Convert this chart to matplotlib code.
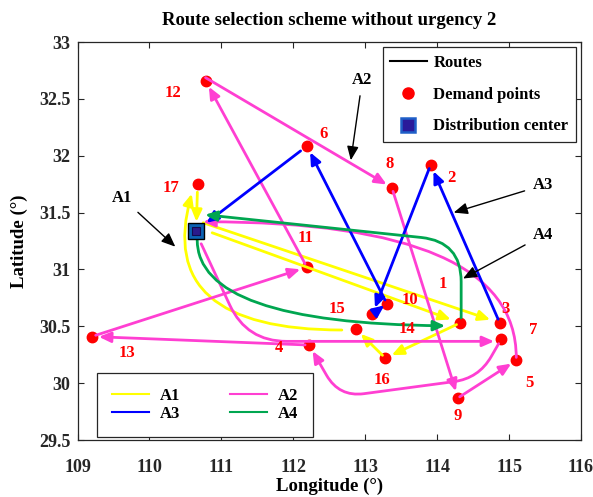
import matplotlib
matplotlib.use("Agg")
import matplotlib.pyplot as plt
from matplotlib.patches import FancyArrowPatch
from matplotlib.lines import Line2D
from matplotlib.ticker import FormatStrFormatter
import numpy as np

plt.rcParams["font.family"] = ["Liberation Serif", "DejaVu Serif"]
plt.rcParams["font.weight"] = "bold"

# ── data ────────────────────────────────────────────────────────────────────
point_names = ["1", "2", "3", "4", "5", "6", "7", "8", "9", "10",
               "11", "12", "13", "14", "15", "16", "17"]
point_lon = [114.32, 113.91, 114.87, 112.22, 115.10, 112.19, 114.89, 113.37, 114.29, 113.30,
             112.19, 110.78, 109.20, 113.10, 112.87, 113.28, 110.67]
point_lat = [30.53, 31.92, 30.53, 30.335, 30.20, 32.085, 30.385, 31.72, 29.87, 30.70,
             31.02, 32.66, 30.41, 30.605, 30.476, 30.22, 31.75]
dc_lon, dc_lat = 110.65, 31.34

# route legs (sequences of visited nodes)
route_A1 = [["DC", "3"], ["DC", "1", "16", "15", "17", "DC"]]
route_A2 = [["DC", "7", "4", "13", "11", "12", "8", "9", "5", "DC"]]
route_A3 = [["3", "2", "14", "10", "6", "DC"]]
route_A4 = [["DC", "1", "DC"]]

route_names = ["A1", "A2", "A3", "A4"]
route_colors = ["#FFFF00", "#FF3FD2", "#0000FF", "#00A650"]

# ── styles (pixel offsets / curve shapes for drawing only) ──────────────────
# key: (route, from, to) -> dict(cs, offA, offB, shA, shB)  (px)
EDGE_STYLE = {
    ("A1", "DC", "3"): dict(offA=(7, -8), shA=0, shB=10),
    ("A1", "DC", "1"): dict(offA=(16, 2), shA=0, shB=10),
    ("A1", "15", "17"): dict(cs="angle3,angleA=0,angleB=72", offA=(-14, 1), shA=0,
                             offB=(-3, 0), shB=10),
    ("A1", "17", "DC"): dict(shA=8, shB=9),
    ("A2", "DC", "7"): dict(cs="angle,angleA=-65,angleB=0,rad=40", offA=(5, 13), shA=0,
                            offB=(0, 2), shB=7),
    ("A2", "7", "4"): dict(cs="arc,angleA=-120,angleB=-60,armA=45,armB=60,rad=25",
                           shA=5, shB=7),
    ("A2", "12", "8"): dict(offA=(0, -3), shA=0, shB=6),
    ("A2", "9", "5"): dict(shA=2, shB=6),
    ("A2", "5", "DC"): dict(cs="angle3,angleA=90,angleB=0", offA=(0, -3), shA=0,
                            offB=(7, -9), shB=0),
    ("A3", "14", "10"): dict(shA=4, shB=3),
    ("A3", "6", "DC"): dict(shA=8, shB=13),
    ("A4", "DC", "1"): dict(cs="angle3,angleA=-90,angleB=0", offA=(1, 9), shA=0,
                            offB=(0, 3), shB=15),
    ("A4", "1", "DC"): dict(cs="angle,angleA=90,angleB=-6,rad=40", offA=(1, -5), shA=0,
                            offB=(9, -16), shB=0),
}

# label offsets in px (image orientation: +y is down)
LABEL_OFF = {
    "1": (-17, -39), "2": (21, 13), "3": (6, -14), "4": (-30, 3), "5": (13, 23),
    "6": (17, -12), "7": (32, -9), "8": (-2, -24), "9": (0, 18), "10": (23, -4),
    "11": (-1, -29), "12": (-33, 12), "13": (35, 16), "14": (35, 15), "15": (-19, -20),
    "16": (-3, 22), "17": (-27, 4),
}

DPI = 100
fig = plt.figure(figsize=(5.93, 4.97), dpi=DPI)
ax = fig.add_axes([77.5 / 593, 57 / 497, 503.5 / 593, 398 / 497])
ax.set_xlim(109, 116)
ax.set_ylim(29.5, 33)

coords = {n: (x, y) for n, x, y in zip(point_names, point_lon, point_lat)}
coords["DC"] = (dc_lon, dc_lat)

px2pt = 72.0 / DPI


def shifted(p, off):
    d = ax.transData.transform(p) + np.array([off[0], -off[1]])
    return ax.transData.inverted().transform(d)


# demand points
ax.plot(point_lon, point_lat, "o", ms=7.5, color="#FF0000", mec="#FF0000", zorder=2)

# routes
for rname, legs, col in zip(route_names, [route_A1, route_A2, route_A3, route_A4], route_colors):
    for leg in legs:
        for a, b in zip(leg[:-1], leg[1:]):
            st = EDGE_STYLE.get((rname, a, b), {})
            pA = shifted(coords[a], st.get("offA", (0, 0)))
            pB = shifted(coords[b], st.get("offB", (0, 0)))
            arr = FancyArrowPatch(pA, pB,
                                  arrowstyle="-|>,head_length=0.5,head_width=0.22",
                                  connectionstyle=st.get("cs", "arc3"),
                                  shrinkA=st.get("shA", 4) * px2pt,
                                  shrinkB=st.get("shB", 7) * px2pt,
                                  mutation_scale=14, lw=2, color=col, zorder=3)
            ax.add_patch(arr)

# distribution center
ax.plot(dc_lon, dc_lat, "s", ms=12, mfc="#0b62b4", mec="black", mew=1, zorder=5)
ax.plot(dc_lon, dc_lat, "s", ms=5.5, mfc="#2a1a8c", mec="#140a50", mew=0.8, zorder=6)

# point labels
for n in point_names:
    dx, dy = LABEL_OFF[n]
    ax.annotate(n, coords[n], xytext=(dx * px2pt, -dy * px2pt), textcoords="offset points",
                ha="center", va="center", color="#FF0000", fontsize=12, fontweight="bold",
                zorder=7)

# route callouts
callouts = [("A1", (109.62, 31.63), (110.36, 31.20)),
            ("A2", (112.96, 32.67), (112.80, 31.96)),
            ("A3", (115.47, 31.74), (114.23, 31.50)),
            ("A4", (115.47, 31.30), (114.36, 30.92))]
for txt, pt, tip in callouts:
    ax.annotate(txt, tip, xytext=pt, ha="center", va="center", fontsize=12,
                fontweight="bold", color="black", zorder=7,
                arrowprops=dict(arrowstyle="-|>,head_length=0.6,head_width=0.25",
                                mutation_scale=14, lw=1, color="black",
                                shrinkA=4, shrinkB=0))

# axes styling
ax.set_xticks(np.arange(109, 117, 1))
ax.set_yticks(np.arange(29.5, 33.01, 0.5))
ax.yaxis.set_major_formatter(FormatStrFormatter("%g"))
ax.tick_params(direction="in", length=4, top=True, right=True, labelsize=13,
               colors="#262626", width=0.8)
ax.tick_params(axis="x", pad=14)
ax.tick_params(axis="y", pad=5)
for lab in ax.get_xticklabels() + ax.get_yticklabels():
    lab.set_fontweight("bold")
for s in ax.spines.values():
    s.set_color("#262626")
    s.set_linewidth(0.9)

ax.set_xlabel("Longitude (°)", fontsize=13.5, fontweight="bold", labelpad=1)
ax.set_ylabel("Latitude (°)", fontsize=13.5, fontweight="bold", labelpad=8)
ax.set_title("Route selection scheme without urgency 2", fontsize=13.5,
             fontweight="bold", pad=12)

# legend: symbols
sym_handles = [Line2D([], [], color="black", lw=1.5),
               Line2D([], [], marker="o", ls="none", ms=8, color="#FF0000"),
               Line2D([], [], marker="s", ls="none", ms=10, mfc="#2a1a9a",
                      mec="#1f5fc8", mew=1.8)]
leg1 = ax.legend(sym_handles, ["Routes", "Demand points", "Distribution center"],
                 loc="upper right", bbox_to_anchor=(0.99, 0.987),
                 prop=dict(weight="bold", size=12), frameon=True, fancybox=False,
                 edgecolor="#262626", framealpha=1, borderpad=0.45, labelspacing=0.95,
                 handlelength=2.2, handletextpad=0.4, borderaxespad=0)
leg1.get_frame().set_linewidth(0.9)
ax.add_artist(leg1)

# legend: routes (row-wise A1 A2 / A3 A4 -> column-major order for matplotlib)
route_handles = {n: Line2D([], [], color=c, lw=1.5) for n, c in zip(route_names, route_colors)}
leg_order = ["A1", "A3", "A2", "A4"]
leg2 = ax.legend([route_handles[n] for n in leg_order], leg_order, loc="lower left",
                 bbox_to_anchor=(0.0387, 0.0075, 0.429, 0.16), mode="expand", ncol=2,
                 prop=dict(weight="bold", size=12), frameon=True, fancybox=False,
                 edgecolor="#262626", framealpha=1, borderpad=0.9, labelspacing=0.15,
                 handlelength=2.2, handletextpad=0.65, columnspacing=1.9,
                 borderaxespad=0)
leg2.get_frame().set_linewidth(0.9)

fig.savefig("out.png", dpi=DPI, facecolor="white")
